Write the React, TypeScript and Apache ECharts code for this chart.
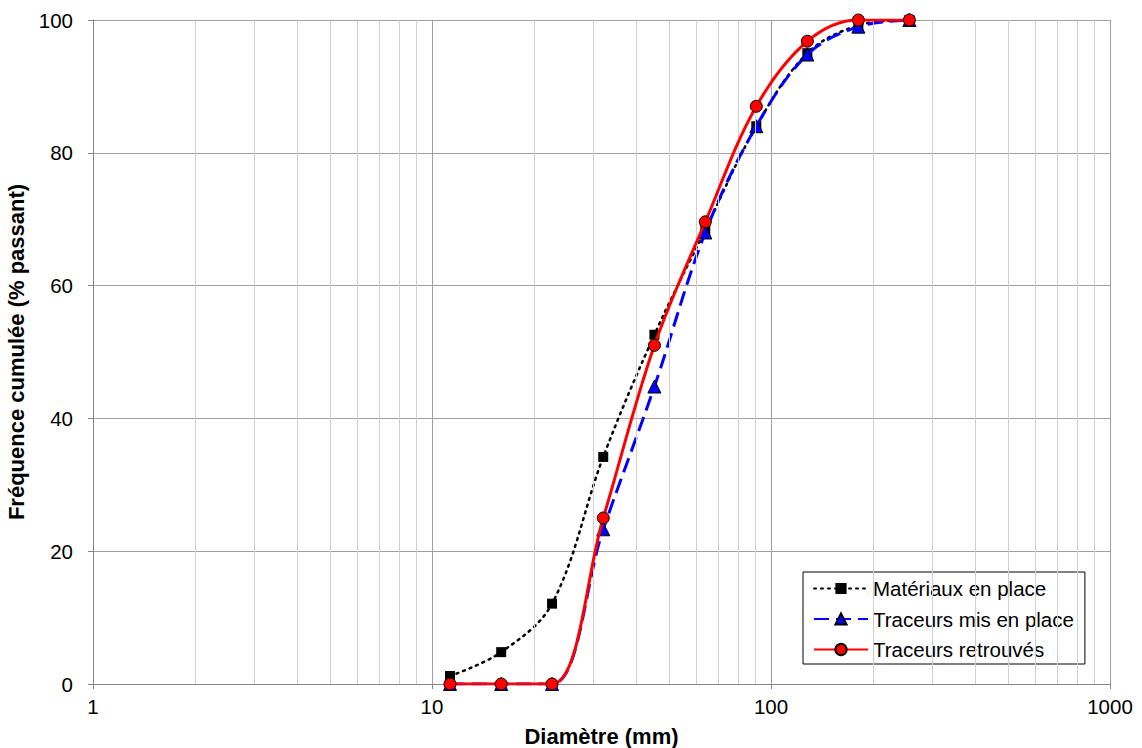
import React, { useEffect, useRef } from "react";
import * as echarts from "echarts";

const diameters = [11.3, 16, 22.6, 32, 45.3, 64, 90.5, 128, 181, 256];
const materiaux = [1.2, 4.8, 12.1, 34.2, 52.6, 68.4, 84, 95, 99.2, 100];
const traceursMis = [0, 0, 0, 23.3, 44.8, 68, 84, 94.8, 99, 100];
const traceursRetrouves = [0, 0, 0, 25, 51, 69.6, 87, 96.8, 100, 100];
const xTickLabels = [1, 10, 100, 1000];
const minorGrid = [2, 3, 4, 5, 6, 7, 8, 9, 20, 30, 40, 50, 60, 70, 80, 90, 200, 300, 400, 500, 600, 700, 800, 900];
const seriesNames = ["Matériaux en place", "Traceurs mis en place", "Traceurs retrouvés"];

const FONT = "Liberation Sans, Arial, sans-serif";

export default function App() {
  const ref = useRef<HTMLDivElement>(null);
  useEffect(() => {
    if (!ref.current) return;
    const chart = echarts.init(ref.current, null, { renderer: "svg" });
    const pair = (ys: number[]) => diameters.map((d, i) => [d, ys[i]]);
    chart.setOption({
      animation: false,
      textStyle: { fontFamily: FONT },
      grid: { left: 93, right: 32, top: 20, bottom: 64, containLabel: false, outerBoundsMode: "none" },
      legend: {
        data: seriesNames,
        orient: "vertical",
        left: 803,
        top: 572,
        backgroundColor: "#ffffff",
        borderColor: "#000000",
        borderWidth: 1,
        padding: [6, 11, 4, 10],
        itemWidth: 54,
        itemHeight: 14,
        itemGap: 9.5,
        textStyle: { fontSize: 20.5, lineHeight: 20, color: "#000", fontFamily: FONT },
        selectedMode: false,
      },
      xAxis: {
        type: "log",
        logBase: 10,
        min: 1,
        max: 1000,
        name: "Diamètre (mm)",
        nameLocation: "middle",
        nameGap: 41,
        nameTextStyle: { fontSize: 22, fontWeight: "bold", color: "#000", fontFamily: FONT },
        axisLine: { show: true, onZero: false, lineStyle: { color: "#868686", width: 1 } },
        axisTick: { show: true, length: 5, lineStyle: { color: "#868686" } },
        axisLabel: {
          fontSize: 20.5,
          color: "#000",
          margin: 12,
          formatter: (v: number) => {
            const r = Math.round(v);
            return xTickLabels.includes(r) ? String(r) : "";
          },
        },
        splitLine: { show: true, lineStyle: { color: "#a0a0a0", width: 1 } },
      },
      yAxis: {
        type: "value",
        min: 0,
        max: 100,
        interval: 20,
        name: "Fréquence cumulée (% passant)",
        nameLocation: "middle",
        nameGap: 63,
        nameTextStyle: { fontSize: 22, fontWeight: "bold", color: "#000", fontFamily: FONT },
        axisLine: { show: true, lineStyle: { color: "#868686", width: 1 } },
        axisTick: { show: true, length: 5, lineStyle: { color: "#868686" } },
        axisLabel: { fontSize: 20.5, color: "#000", margin: 20 },
        splitLine: { show: true, lineStyle: { color: "#a0a0a0", width: 1 } },
      },
      series: [
        {
          name: "grid-minor",
          type: "line",
          data: [],
          silent: true,
          z: 1,
          markLine: {
            silent: true,
            symbol: ["none", "none"],
            label: { show: false },
            lineStyle: { color: "#cfcfcf", width: 1, type: "solid" },
            emphasis: { disabled: true },
            data: minorGrid.map((v) => ({ xAxis: v })),
          },
        },
        {
          name: seriesNames[0],
          type: "line",
          data: pair(materiaux),
          smooth: 0.35,
          z: 3,
          symbol: "rect",
          symbolSize: 10,
          itemStyle: { color: "#000000", borderColor: "#000000", borderWidth: 0 },
          lineStyle: { color: "#000000", width: 2.5, type: [2, 5], cap: "round" },
        },
        {
          name: seriesNames[1],
          type: "line",
          data: pair(traceursMis),
          smooth: 0.35,
          z: 4,
          symbol: "triangle",
          symbolSize: 13,
          itemStyle: { color: "#0000ff", borderColor: "#000000", borderWidth: 1 },
          lineStyle: { color: "#0000ff", width: 3, type: [15, 7] },
        },
        {
          name: seriesNames[2],
          type: "line",
          data: pair(traceursRetrouves),
          smooth: 0.35,
          z: 5,
          symbol: "circle",
          symbolSize: 12,
          itemStyle: { color: "#ff0000", borderColor: "#000000", borderWidth: 1 },
          lineStyle: { color: "#ff0000", width: 3 },
        },
      ],
    });
    return () => chart.dispose();
  }, []);
  return <div ref={ref} style={{ width: 1142, height: 748, position: "absolute", left: 0, top: 0 }} />;
}
